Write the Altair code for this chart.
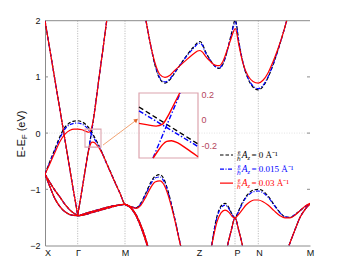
import altair as alt
import pandas as pd

# ---------------- values ----------------
SYM_LABELS = ["X", "Γ", "M", "Z", "P", "N", "M"]
SYM_LABEL_K = [2.5, 33.0, 80.0, 154.0, 192.0, 214.0, 265.0]
SYM_LINE_K = [32.7, 80.0, 190.0, 213.3]
Y_TICKS = [-2, -1, 0, 1, 2]
INSET_TICKS = [-0.2, 0.0, 0.2]

SERIES = ["0", "0.015", "0.03"]
SERIES_COLORS = ["#000000", "#0000ff", "#ff0000"]
LEGEND_TEXT = ["= 0 Å⁻¹", "= 0.015 Å⁻¹", "= 0.03 Å⁻¹"]
TITLE_PARTS = ["E-E", "F", "(eV)"]

# steep band through Gamma (all three coincide)
A_LEFT_K = [0, 5, 10, 15, 18, 21, 25, 29, 31, 32.7]
A_LEFT_E = [2.0, 1.47, 0.94, 0.41, 0.09, -0.23, -0.66, -1.08, -1.28, -1.46]
A_RIGHT_K = [32.7, 35, 38, 41, 44, 47, 50, 54, 58, 61.7]
A_RIGHT_E = [-1.46, -1.22, -0.90, -0.57, -0.25, 0.07, 0.45, 0.98, 1.50, 2.0]

# hole band X - Gamma - M - ... (A=0 and A=0.015)
B_K = [0, 5, 10, 15, 19, 23, 28, 32.7, 37, 41, 44, 47, 50, 53, 57, 61, 65, 70, 75, 80,
       86, 91, 96, 101, 106, 110, 115, 119, 123, 127, 131, 135, 136]
B_BLACK_E = [-0.73, -0.50, -0.28, -0.06, 0.08, 0.16, 0.21, 0.22, 0.20, 0.15, 0.09, 0.01, -0.09,
             -0.19, -0.34, -0.51, -0.67, -0.87, -1.07, -1.27, -1.31, -1.33, -1.24, -1.06, -0.87,
             -0.77, -0.74, -0.82, -1.03, -1.31, -1.62, -1.95, -2.03]
B_BLUE_E = [-0.73, -0.51, -0.30, -0.09, 0.05, 0.13, 0.17, 0.18, 0.16, 0.11, 0.05, -0.03, -0.12,
            -0.21, -0.35, -0.52, -0.68, -0.88, -1.07, -1.27, -1.31, -1.33, -1.25, -1.08, -0.90,
            -0.80, -0.78, -0.86, -1.05, -1.32, -1.62, -1.95, -2.03]
# A=0.03: gapped branches
R_UP_K = [0, 5, 10, 15, 20, 25, 29, 32.7, 37, 41, 44, 46, 48, 50, 54, 58, 61.7]
R_UP_E = [-0.73, -0.54, -0.34, -0.15, -0.02, 0.05, 0.07, 0.07, 0.06, 0.03, 0.015, 0.06, 0.2,
          0.43, 0.98, 1.50, 2.0]
R_LOW_K = [32.7, 35, 38, 41, 43, 45, 47, 49, 52, 55, 59, 65, 70, 75, 80,
           86, 91, 96, 101, 106, 110, 115, 119, 123, 127, 131, 135, 136]
R_LOW_E = [-1.46, -1.22, -0.90, -0.57, -0.36, -0.22, -0.16, -0.165, -0.22, -0.29, -0.43, -0.68,
           -0.88, -1.07, -1.27, -1.31, -1.34, -1.28, -1.13, -0.96, -0.87, -0.85, -0.92, -1.10,
           -1.35, -1.64, -1.96, -2.03]

# lower bands (coincide)
C_A_K = [0, 5, 10, 15, 20, 25, 32.7, 40, 50, 60, 70, 80, 85, 90, 95, 100, 103]
C_A_E = [-0.73, -0.96, -1.17, -1.31, -1.40, -1.45, -1.47, -1.45, -1.40, -1.35, -1.30, -1.27,
         -1.31, -1.42, -1.60, -1.84, -2.02]
C_B_K = [0, 5, 10, 15, 20, 25, 30, 32.7, 40, 50, 60, 70, 80, 85, 90, 95, 100, 102.5]
C_B_E = [-0.73, -0.88, -1.02, -1.14, -1.27, -1.37, -1.44, -1.47, -1.43, -1.38, -1.33, -1.29,
         -1.27, -1.32, -1.44, -1.63, -1.88, -2.02]

# conduction band M - Z - P - N - M
COND_K = [101, 105, 110, 115, 120, 125, 130, 135, 140, 145, 150, 152.5, 155, 157.5, 160, 165,
          170, 174, 178, 182, 186, 190.3, 194, 198, 203, 208, 213.3, 218, 223, 228, 233, 238,
          241.7]
COND_BLACK_E = [2.0, 1.62, 1.21, 0.96, 0.89, 0.95, 1.08, 1.21, 1.34, 1.46, 1.56, 1.61, 1.63,
                1.58, 1.47, 1.31, 1.19, 1.15, 1.23, 1.45, 1.74, 2.01, 1.61, 1.25, 0.97, 0.82,
                0.77, 0.83, 0.99, 1.21, 1.48, 1.77, 2.0]
COND_BLUE_E = [2.0, 1.62, 1.22, 0.98, 0.91, 0.97, 1.09, 1.21, 1.33, 1.44, 1.54, 1.585, 1.60,
               1.56, 1.45, 1.30, 1.19, 1.16, 1.24, 1.45, 1.72, 1.98, 1.60, 1.25, 0.98, 0.84,
               0.79, 0.85, 1.00, 1.22, 1.48, 1.77, 2.0]
COND_RED_E = [2.0, 1.62, 1.25, 1.04, 0.99, 1.03, 1.12, 1.20, 1.28, 1.36, 1.43, 1.46, 1.47,
              1.44, 1.38, 1.28, 1.21, 1.20, 1.28, 1.47, 1.68, 1.86, 1.55, 1.24, 1.02, 0.92,
              0.89, 0.94, 1.07, 1.27, 1.50, 1.77, 2.0]

# valence band Z - P - N - M
G_K = [166.7, 169, 172, 176, 180, 184, 187, 190, 193, 197, 201, 205, 209, 213.3, 218, 223,
       229, 235, 240, 245, 250, 255, 260, 265]
G_BLACK_E = [-2.0, -1.74, -1.48, -1.30, -1.25, -1.33, -1.44, -1.51, -1.41, -1.25, -1.13, -1.05,
             -1.01, -1.00, -1.03, -1.12, -1.27, -1.41, -1.49, -1.50, -1.45, -1.38, -1.31, -1.26]
G_BLUE_E = [-2.0, -1.75, -1.50, -1.33, -1.28, -1.35, -1.45, -1.51, -1.42, -1.27, -1.15, -1.08,
            -1.04, -1.03, -1.06, -1.14, -1.28, -1.42, -1.49, -1.50, -1.45, -1.38, -1.31, -1.26]
G_RED_E = [-2.0, -1.80, -1.58, -1.42, -1.37, -1.41, -1.48, -1.51, -1.46, -1.37, -1.28, -1.22,
           -1.19, -1.19, -1.22, -1.28, -1.38, -1.47, -1.51, -1.51, -1.46, -1.38, -1.30, -1.25]
E_K = [182.5, 186, 190, 194, 197.5]
E_E = [-2.0, -1.75, -1.51, -1.75, -2.0]
F_K = [244, 250, 255, 260, 265]
F_E = [-2.0, -1.72, -1.50, -1.36, -1.26]

# inset (magnified crossing)
IN_BLACK_K = [0, 0.5, 1]
IN_BLACK_E = [0.10, -0.045, -0.19]
IN_BLUE_B_K = [0, 0.5, 1]
IN_BLUE_B_E = [0.07, -0.07, -0.21]
IN_BLUE_A_K = [0.237, 0.46, 0.70]
IN_BLUE_A_E = [-0.30, -0.055, 0.21]
IN_RED_UP_K = [0, 0.15, 0.29, 0.40, 0.48, 0.57, 0.69]
IN_RED_UP_E = [-0.028, -0.04, -0.05, -0.035, 0.02, 0.10, 0.21]
IN_RED_LOW_K = [0.24, 0.32, 0.40, 0.47, 0.55, 0.65, 0.80, 1.0]
IN_RED_LOW_E = [-0.30, -0.245, -0.195, -0.17, -0.165, -0.18, -0.225, -0.29]

# ---------------- layout / style ----------------
W, H = 265, 224.8
K_DOMAIN = [0, 265]
E_DOMAIN = [-2, 2]
IN_K_DOMAIN = [0, 1]
IN_E_DOMAIN = [-0.30, 0.21]
IN_X_RANGE = [94, 153]
IN_Y_RANGE = [137.3, 72.3]
PINK = "#dca4ae"
AXIS_GRAY = "#8c8c8c"
DASHES = {"0": [3.5, 2], "0.015": [4, 1.5, 1, 1.5], "0.03": None}
IN_DASHES = {"0": [5, 3], "0.015": [5, 2, 1.5, 2], "0.03": None}


def curves_df(curves):
    rows = []
    for name, ks, es in curves:
        for k, e in zip(ks, es):
            rows.append({"curve": name, "k": k, "e": e})
    return pd.DataFrame(rows)


SERIES_CURVES = {
    "0": [("Al", A_LEFT_K, A_LEFT_E), ("Ar", A_RIGHT_K, A_RIGHT_E), ("B", B_K, B_BLACK_E),
          ("Ca", C_A_K, C_A_E), ("Cb", C_B_K, C_B_E), ("cond", COND_K, COND_BLACK_E),
          ("G", G_K, G_BLACK_E), ("E", E_K, E_E), ("F", F_K, F_E)],
    "0.015": [("Al", A_LEFT_K, A_LEFT_E), ("Ar", A_RIGHT_K, A_RIGHT_E), ("B", B_K, B_BLUE_E),
              ("Ca", C_A_K, C_A_E), ("Cb", C_B_K, C_B_E), ("cond", COND_K, COND_BLUE_E),
              ("G", G_K, G_BLUE_E), ("E", E_K, E_E), ("F", F_K, F_E)],
    "0.03": [("Al", A_LEFT_K, A_LEFT_E), ("Ru", R_UP_K, R_UP_E), ("Rl", R_LOW_K, R_LOW_E),
             ("Ca", C_A_K, C_A_E), ("Cb", C_B_K, C_B_E), ("cond", COND_K, COND_RED_E),
             ("G", G_K, G_RED_E), ("E", E_K, E_E), ("F", F_K, F_E)],
}
INSET_CURVES = {
    "0": [("B", IN_BLACK_K, IN_BLACK_E)],
    "0.015": [("B", IN_BLUE_B_K, IN_BLUE_B_E), ("A", IN_BLUE_A_K, IN_BLUE_A_E)],
    "0.03": [("U", IN_RED_UP_K, IN_RED_UP_E), ("L", IN_RED_LOW_K, IN_RED_LOW_E)],
}

# x label expression built from the label arrays
mids = [(SYM_LABEL_K[i] + SYM_LABEL_K[i + 1]) / 2 for i in range(len(SYM_LABEL_K) - 1)]
expr = "'" + SYM_LABELS[-1] + "'"
for m, lab in reversed(list(zip(mids, SYM_LABELS[:-1]))):
    expr = f"datum.value < {m} ? '{lab}' : ({expr})"

XS = alt.Scale(domain=K_DOMAIN, nice=False, zero=False)
YS = alt.Scale(domain=E_DOMAIN, nice=False, zero=False)
X_AXIS = alt.Axis(values=SYM_LABEL_K, labelExpr=expr, title=None, grid=False, ticks=False,
                  domainColor=AXIS_GRAY, labelFontSize=9, labelFont="Liberation Sans",
                  labelColor="#111111", labelPadding=3, labelFlush=False, labelOverlap=False)
Y_AXIS = alt.Axis(values=Y_TICKS, title=None, grid=False, ticks=False, domainColor=AXIS_GRAY,
                  labelFontSize=9, labelFont="Liberation Sans", labelColor="#111111",
                  labelPadding=5, labelFlush=False)
X_ENC = alt.X("k:Q", scale=XS, axis=X_AXIS)
Y_ENC = alt.Y("e:Q", scale=YS, axis=Y_AXIS)

XI = alt.X("k:Q", scale=alt.Scale(domain=IN_K_DOMAIN, range=IN_X_RANGE, nice=False, zero=False),
           axis=None)
YI = alt.Y("e:Q", scale=alt.Scale(domain=IN_E_DOMAIN, range=IN_Y_RANGE, nice=False, zero=False),
           axis=alt.Axis(orient="right", offset=-(W - IN_X_RANGE[1]), values=INSET_TICKS,
                         labelExpr="datum.value == 0 ? '0' : replace(format(datum.value, '.1f'), '\u2212', '-')",
                         title=None, grid=False, ticks=False, domain=False, labelFontSize=9,
                         labelFont="Liberation Sans", labelColor="#b4465c", labelPadding=3))

main_layers = []
# dotted guides
main_layers.append(alt.Chart(pd.DataFrame({"k": SYM_LINE_K})).mark_rule(
    color="#a0a0a0", strokeDash=[1, 1.5], strokeWidth=0.8).encode(x=X_ENC))
main_layers.append(alt.Chart(pd.DataFrame({"e": [0]})).mark_rule(
    color="#dedede", strokeDash=[1, 1.5], strokeWidth=0.8).encode(y=Y_ENC))
main_layers.append(alt.Chart(pd.DataFrame({"e": [E_DOMAIN[1]]})).mark_rule(
    color=AXIS_GRAY, strokeWidth=1).encode(y=Y_ENC))
tick_rows = []
for t in Y_TICKS[1:-1]:
    tick_rows.append({"k": K_DOMAIN[0], "k2": K_DOMAIN[0] + 3, "e": t})
    tick_rows.append({"k": K_DOMAIN[1] - 3, "k2": K_DOMAIN[1], "e": t})
main_layers.append(alt.Chart(pd.DataFrame(tick_rows)).mark_rule(
    color=AXIS_GRAY, strokeWidth=1).encode(x=X_ENC, x2="k2:Q", y=Y_ENC))

# bands
for s, col in zip(SERIES, SERIES_COLORS):
    kw = dict(color=col, strokeWidth=1.2, clip=True, interpolate="monotone")
    if DASHES[s]:
        kw["strokeDash"] = DASHES[s]
    main_layers.append(alt.Chart(curves_df(SERIES_CURVES[s])).mark_line(**kw).encode(
        x=X_ENC, y=Y_ENC, detail="curve:N"))

# zoom box and arrow
main_layers.append(alt.Chart(pd.DataFrame({"k": [40], "k2": [56], "e": [-0.25], "e2": [0.07]}))
                   .mark_rect(fillOpacity=0, stroke=PINK, strokeWidth=1.1)
                   .encode(x=X_ENC, x2="k2:Q", y=Y_ENC, y2="e2:Q"))
main_layers.append(alt.Chart(pd.DataFrame({"k": [58], "k2": [90.5], "e": [-0.213], "e2": [0.22]}))
                   .mark_rule(color="#f2a474", strokeWidth=1)
                   .encode(x=X_ENC, x2="k2:Q", y=Y_ENC, y2="e2:Q"))
main_layers.append(alt.Chart(pd.DataFrame({"k": [90.8], "e": [0.225]}))
                   .mark_point(shape="triangle", angle=53, filled=True, size=22, color="#e0662a",
                               opacity=1)
                   .encode(x=X_ENC, y=Y_ENC))

# legend
LEG_K0, LEG_K1 = 175, 188
LEG_E = [-0.39, -0.64, -0.89]
for i, (s, col) in enumerate(zip(SERIES, SERIES_COLORS)):
    e = LEG_E[i]
    kw = dict(color=col, strokeWidth=1.2)
    if DASHES[s]:
        kw["strokeDash"] = DASHES[s]
    main_layers.append(alt.Chart(pd.DataFrame({"k": [LEG_K0, LEG_K1], "e": [e, e]}))
                       .mark_line(**kw).encode(x=X_ENC, y=Y_ENC))
    pieces = [("e", 194.0, -3.5, 6, "normal", "center"),
              ("ℏ", 194.0, 3.5, 6, "normal", "center"),
              ("A", 196.8, 0, 9.5, "italic", "left"),
              ("z", 202.6, 2.5, 6.5, "italic", "left"),
              (LEGEND_TEXT[i], 206.5, 0, 9, "normal", "left")]
    for txt, kk, dy, fs, sty, al in pieces:
        main_layers.append(alt.Chart(pd.DataFrame({"k": [kk], "e": [e], "t": [txt]}))
                           .mark_text(color=col, fontSize=fs, font="Liberation Serif",
                                      fontStyle=sty, align=al, baseline="middle", dy=dy)
                           .encode(x=X_ENC, y=Y_ENC, text="t:N"))
    main_layers.append(alt.Chart(pd.DataFrame({"k": [192.4], "k2": [195.6], "e": [e]}))
                       .mark_rule(color=col, strokeWidth=0.6)
                       .encode(x=X_ENC, x2="k2:Q", y=Y_ENC))

# y-axis title with subscript
title_specs = [(TITLE_PARTS[0], 11, -24.5, 0), (TITLE_PARTS[1], 8, -6.2, 3),
               (TITLE_PARTS[2], 11, 1.8, 0)]
for txt, fs, dx, dy in title_specs:
    main_layers.append(alt.Chart(pd.DataFrame({"t": [txt]}))
                       .mark_text(angle=270, fontSize=fs, font="Liberation Sans", color="#111111",
                                  align="left", baseline="middle", dx=dx, dy=dy)
                       .encode(x=alt.value(-23), y=alt.value(112.4), text="t:N"))

main = alt.layer(*main_layers)

# inset
inset_layers = [alt.Chart(pd.DataFrame({"k": [IN_K_DOMAIN[0]], "k2": [IN_K_DOMAIN[1]],
                                        "e": [IN_E_DOMAIN[0]], "e2": [IN_E_DOMAIN[1]]}))
                .mark_rect(fillOpacity=0, stroke=PINK, strokeWidth=1.2)
                .encode(x=XI, x2="k2:Q", y=YI, y2="e2:Q")]
for s, col in zip(SERIES, SERIES_COLORS):
    kw = dict(color=col, strokeWidth=1.4, interpolate="monotone")
    if IN_DASHES[s]:
        kw["strokeDash"] = IN_DASHES[s]
    inset_layers.append(alt.Chart(curves_df(INSET_CURVES[s])).mark_line(**kw).encode(
        x=XI, y=YI, detail="curve:N"))
inset = alt.layer(*inset_layers)

chart = (alt.layer(main, inset)
         .resolve_scale(x="independent", y="independent")
         .properties(width=W, height=H,
                     padding={"left": 37, "top": 12.7, "right": 25, "bottom": 23},
                     autosize=alt.AutoSizeParams(type="none"))
         .configure_view(strokeWidth=0))

chart.save("out.html", embed_options={"renderer": "svg", "actions": False})
